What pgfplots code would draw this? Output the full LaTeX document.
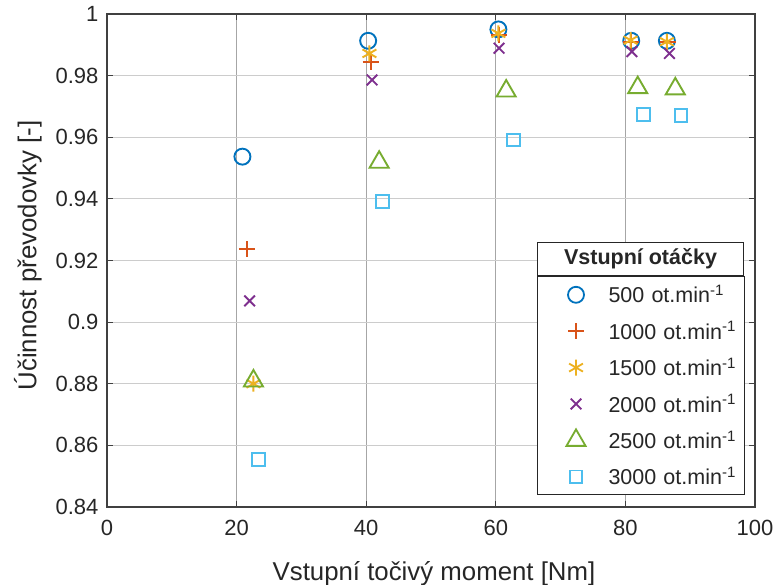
\documentclass[border=0pt]{standalone}
\usepackage{fontspec}
\setmainfont{Liberation Sans}
\usepackage{pgfplots}
\pgfplotsset{compat=1.18}
\definecolor{c1}{rgb}{0,0.447,0.741}
\definecolor{c2}{rgb}{0.85,0.325,0.098}
\definecolor{c3}{rgb}{0.929,0.694,0.125}
\definecolor{c4}{rgb}{0.494,0.184,0.556}
\definecolor{c5}{rgb}{0.466,0.674,0.188}
\definecolor{c6}{rgb}{0.301,0.745,0.933}
\definecolor{axcol}{RGB}{64,64,64}
\pgfplotsset{
  mk/.style={only marks, mark options={line width=1.9pt, solid},
    legend image code/.code={\path (-38pt,-17.7pt) (32pt,17.7pt); \draw[##1,mark options={line width=1.8pt}] plot coordinates {(0pt,0pt)};}},
}
\begin{document}
\begin{tikzpicture}
\begin{axis}[
  scale only axis, width=648pt, height=493pt,
  xmin=0, xmax=100, ymin=0.84, ymax=1,
  xtick={0,20,40,60,80,100},
  xticklabels={0,20,40,60,80,100},
  ytick={0.84,0.86,0.88,0.9,0.92,0.94,0.96,0.98,1},
  yticklabels={0.84,0.86,0.88,0.9,0.92,0.94,0.96,0.98,1},
  /pgf/number format/assume math mode=true,
  grid=major,
  x grid style={draw=black!35, line width=1.1pt},
  y grid style={draw=black!20, line width=1.1pt},
  tick align=inside, major tick length=6pt,
  axis line style={draw=axcol, line width=1.3pt},
  tick style={draw=axcol, line width=1pt},
  ticklabel style={font=\fontsize{22}{26}\selectfont, text=black!85},
  xticklabel style={yshift=-10pt},
  yticklabel style={xshift=-5pt},
  xlabel={Vstupní točivý moment [Nm]},
  ylabel={Účinnost převodovky [-]},
  label style={font=\fontsize{25.8}{30}\selectfont, text=black!85},
  xlabel style={at={(axis description cs:0.5046,-0.150)}, anchor=base},
  ylabel style={at={(axis description cs:-0.1220,0.51)}, anchor=center},
  clip=false,
  legend cell align=left,
  legend style={at={(axis cs:66.36,0.91494)}, anchor=north west,
    draw=black!85, line width=1pt, fill=white, inner sep=0pt,
    row sep=0pt, column sep=0pt,
    font=\fontsize{21.5}{24}\selectfont,
    nodes={inner sep=0pt, text width=136pt, align=left, text=black!85}},
]
\addplot[c1, mark=o, mark size=8pt, mk] coordinates {(20.9,0.9537) (40.3,0.9913) (60.4,0.995) (80.9,0.9913) (86.4,0.9913)};
\addlegendentry{500 ot.min\textsuperscript{-1}}
\addplot[c2, mark=+, mark size=8pt, mk] coordinates {(21.6,0.9236) (40.7,0.9845) (60.5,0.9933) (80.8,0.9910) (86.5,0.9908)};
\addlegendentry{1000 ot.min\textsuperscript{-1}}
\addplot[c3, mark=asterisk, mark size=8pt, mk] coordinates {(22.6,0.8800) (40.5,0.9872) (60.4,0.9937) (80.8,0.9915) (86.4,0.9910)};
\addlegendentry{1500 ot.min\textsuperscript{-1}}
\addplot[c4, mark=x, mark size=7.5pt, mk] coordinates {(22.0,0.9069) (40.9,0.9786) (60.5,0.9889) (81.0,0.9878) (86.8,0.9872)};
\addlegendentry{2000 ot.min\textsuperscript{-1}}
\addplot[c5, mark=triangle, mark size=11pt, mk] coordinates {(22.6,0.8809) (42.0,0.9519) (61.6,0.9750) (81.9,0.9761) (87.7,0.9757)};
\addlegendentry{2500 ot.min\textsuperscript{-1}}
\addplot[c6, mark=square, mark size=6.3pt, mk] coordinates {(23.4,0.8554) (42.5,0.9391) (62.7,0.9591) (82.8,0.9674) (88.6,0.9670)};
\addlegendentry{3000 ot.min\textsuperscript{-1}}
\node[draw=black!85, line width=1pt, fill=white, anchor=south west, minimum width=206pt, minimum height=33pt, inner sep=0pt, font=\fontsize{21.5}{24}\selectfont\bfseries, text=black!85] at (axis cs:66.36,0.91494) {Vstupní otáčky};
\end{axis}
\pgfresetboundingbox
\path ([shift={(-107pt,-78pt)}]current axis.south west) rectangle ([shift={(23pt,14pt)}]current axis.north east);
\end{tikzpicture}
\end{document}
